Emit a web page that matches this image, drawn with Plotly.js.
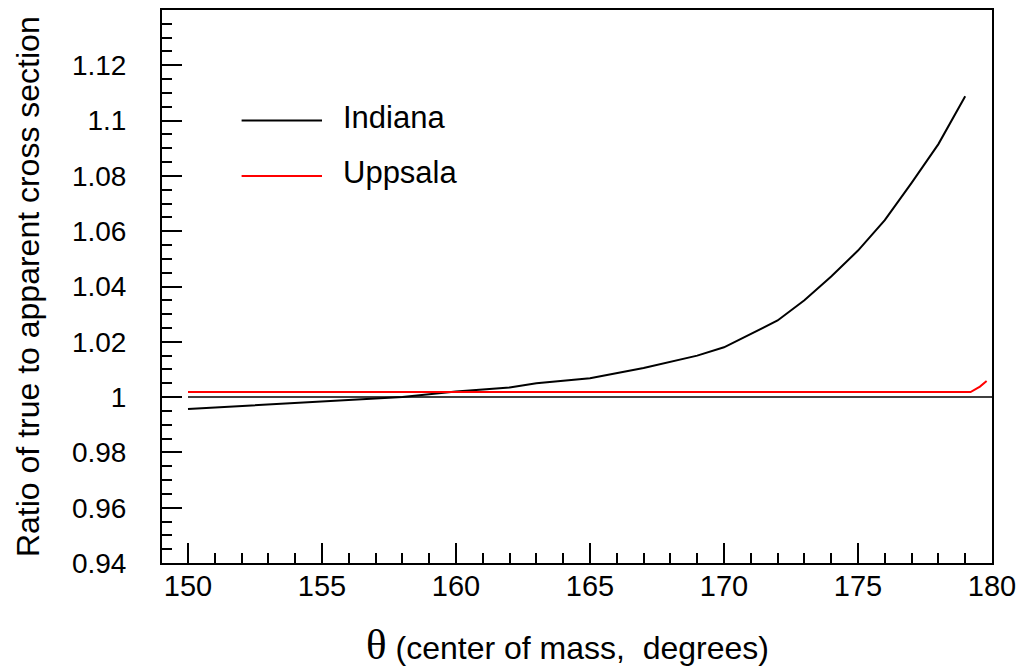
<!DOCTYPE html>
<html>
<head>
<meta charset="utf-8">
<script src="https://cdn.plot.ly/plotly-3.0.1.min.js"></script>
<style>
html,body{margin:0;padding:0;background:#fff;}
#chart{width:1022px;height:668px;}
</style>
</head>
<body>
<div id="chart"></div>
<script>
// Data
const indianaTheta = [150, 152, 155, 158, 160, 162, 163, 165, 167, 169, 170, 172, 173, 174, 175, 176, 177, 178, 179];
const indianaRatio = [0.9957, 0.9968, 0.9985, 1.0000, 1.0020, 1.0035, 1.0050, 1.0068, 1.0105, 1.0150, 1.0180, 1.0277, 1.0350, 1.0436, 1.0530, 1.0640, 1.0775, 1.0915, 1.1088];

const uppsalaTheta = [150, 179.2, 179.55, 179.8];
const uppsalaRatio = [1.0018, 1.0018, 1.0038, 1.0058];

const referenceTheta = [150, 180];
const referenceRatio = [1, 1];

const seriesNames = ["Indiana", "Uppsala"];
const seriesColors = ["#000000", "#ff0000"];

const xTickVals = [150, 155, 160, 165, 170, 175, 180];
const xTickText = ["150", "155", "160", "165", "170", "175", "180"];
const yTickVals = [0.94, 0.96, 0.98, 1.00, 1.02, 1.04, 1.06, 1.08, 1.10, 1.12];
const yTickText = ["0.94", "0.96", "0.98", "1", "1.02", "1.04", "1.06", "1.08", "1.1", "1.12"];

const FONT = "Liberation Sans, Arial, sans-serif";

const traces = [
  {x: referenceTheta, y: referenceRatio, mode: "lines", line: {color: "#000000", width: 1.5}, showlegend: false, hoverinfo: "skip"},
  {x: indianaTheta, y: indianaRatio, mode: "lines", name: seriesNames[0], line: {color: seriesColors[0], width: 2}, showlegend: false},
  {x: uppsalaTheta, y: uppsalaRatio, mode: "lines", name: seriesNames[1], line: {color: seriesColors[1], width: 2}, showlegend: false}
];

const legendY = [1.10, 1.08];

const layout = {
  width: 1022,
  height: 668,
  margin: {l: 162, r: 30, t: 10, b: 105},
  paper_bgcolor: "#ffffff",
  plot_bgcolor: "#ffffff",
  font: {family: FONT, color: "#000000", size: 28},
  showlegend: false,
  xaxis: {
    range: [149.03, 180],
    showgrid: false,
    zeroline: false,
    showline: true,
    linecolor: "#000000",
    linewidth: 2,
    mirror: true,
    ticks: "inside",
    ticklen: 20,
    tickwidth: 2,
    tickcolor: "#000000",
    tickmode: "array",
    tickvals: xTickVals,
    ticktext: xTickText,
    tickfont: {family: FONT, size: 29, color: "#000000"},
    ticklabelstandoff: -4,
    minor: {dtick: 1, tick0: 150, ticks: "inside", ticklen: 10, tickwidth: 2, tickcolor: "#000000", showgrid: false}
  },
  yaxis: {
    range: [0.94, 1.14],
    showgrid: false,
    zeroline: false,
    showline: true,
    linecolor: "#000000",
    linewidth: 2,
    mirror: true,
    ticks: "inside",
    ticklen: 20,
    tickwidth: 2,
    tickcolor: "#000000",
    tickmode: "array",
    tickvals: yTickVals,
    ticktext: yTickText,
    tickfont: {family: FONT, size: 28, color: "#000000"},
    ticklabelstandoff: 28,
    minor: {dtick: 0.005, tick0: 0.94, ticks: "inside", ticklen: 10, tickwidth: 2, tickcolor: "#000000", showgrid: false}
  },
  shapes: [
    {type: "line", xref: "x", yref: "y", x0: 152, x1: 155, y0: legendY[0], y1: legendY[0], line: {color: seriesColors[0], width: 2}},
    {type: "line", xref: "x", yref: "y", x0: 152, x1: 155, y0: legendY[1], y1: legendY[1], line: {color: seriesColors[1], width: 2}}
  ],
  annotations: [
    {xref: "x", yref: "y", x: 155.7, y: legendY[0], xanchor: "left", yanchor: "middle", yshift: 3, showarrow: false, text: seriesNames[0], font: {family: FONT, size: 31, color: "#000000"}},
    {xref: "x", yref: "y", x: 155.7, y: legendY[1], xanchor: "left", yanchor: "middle", yshift: 3, showarrow: false, text: seriesNames[1], font: {family: FONT, size: 31, color: "#000000"}},
    {xref: "paper", yref: "paper", x: 0.488, y: -0.148, xanchor: "center", yanchor: "middle", showarrow: false,
     text: "<span style='font-family:Liberation Serif, Times New Roman, serif;font-size:43px'>θ</span> (center of mass,\u00A0 degrees)",
     font: {family: FONT, size: 32, color: "#000000"}},
    {xref: "paper", yref: "paper", x: -0.162, y: 0.5, xanchor: "center", yanchor: "middle", textangle: -90, showarrow: false,
     text: "Ratio of true to apparent cross section", font: {family: FONT, size: 32, color: "#000000"}}
  ]
};

Plotly.newPlot("chart", traces, layout, {displayModeBar: false, staticPlot: true});
</script>
</body>
</html>
